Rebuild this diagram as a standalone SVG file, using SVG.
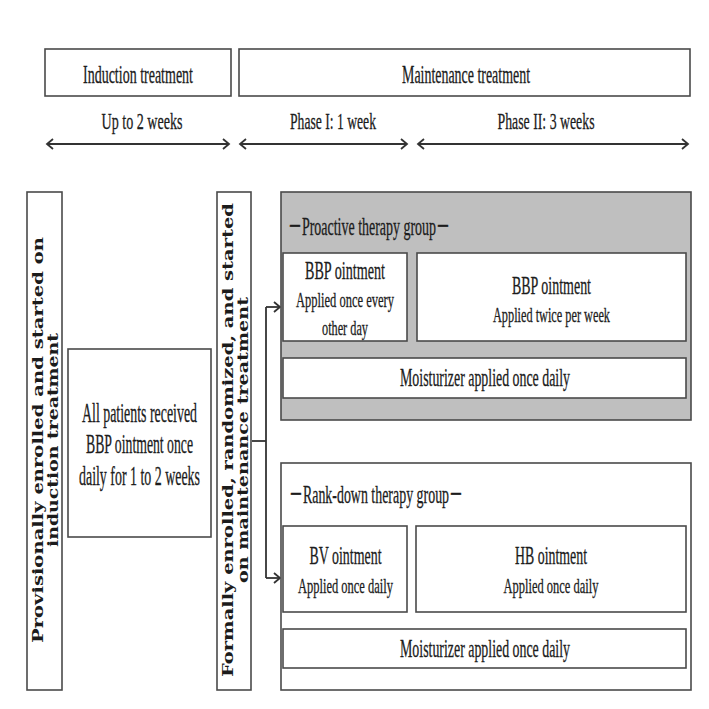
<svg xmlns="http://www.w3.org/2000/svg" width="709" height="709" viewBox="0 0 709 709">
<style>
.bg{fill:#ffffff}
.box{fill:#ffffff;stroke:#4a4a4a;stroke-width:1.6}
.gbox{fill:#bfbfbf;stroke:#4a4a4a;stroke-width:1.6}
.t{font-family:"Liberation Serif","Times New Roman","Noto Sans CJK JP",serif;fill:#1c1c1c;stroke:#1c1c1c;stroke-width:0.3;text-anchor:middle}
.v{font-family:"DejaVu Serif","Liberation Serif",serif;font-weight:bold;fill:#1c1c1c;text-anchor:middle;font-size:15px}
.ln{fill:none;stroke:#333333;stroke-width:1.8}
</style>
<defs>
<marker id="chev" markerUnits="userSpaceOnUse" markerWidth="10" markerHeight="12" refX="7" refY="6" orient="auto-start-reverse">
<path d="M1,1 L7,6 L1,11" fill="none" stroke="#333333" stroke-width="1.8"/>
</marker>
</defs>
<rect class="bg" x="0" y="0" width="709" height="709"/>

<g id="header-induction">
<rect class="box" x="45" y="49" width="186" height="47"/>
<text class="t" x="138" y="83" font-size="25" textLength="110" lengthAdjust="spacingAndGlyphs">Induction treatment</text>
</g>
<g id="header-maintenance">
<rect class="box" x="239" y="49" width="451" height="47"/>
<text class="t" x="466" y="83" font-size="25" textLength="128" lengthAdjust="spacingAndGlyphs">Maintenance treatment</text>
</g>

<g id="timeline">
<text class="t" x="142" y="129" font-size="24" textLength="81" lengthAdjust="spacingAndGlyphs">Up to 2 weeks</text>
<text class="t" x="333" y="129" font-size="24" textLength="86" lengthAdjust="spacingAndGlyphs">Phase I: 1 week</text>
<text class="t" x="546" y="129" font-size="24" textLength="97" lengthAdjust="spacingAndGlyphs">Phase II: 3 weeks</text>
<line class="ln" x1="47" y1="144" x2="229" y2="144" marker-start="url(#chev)" marker-end="url(#chev)"/>
<line class="ln" x1="240" y1="144" x2="407" y2="144" marker-start="url(#chev)" marker-end="url(#chev)"/>
<line class="ln" x1="418" y1="144" x2="688" y2="144" marker-start="url(#chev)" marker-end="url(#chev)"/>
</g>

<g id="provisional">
<rect class="box" x="27" y="192" width="35" height="498"/>
<text class="v" transform="translate(43,440) rotate(-90)" textLength="406" lengthAdjust="spacingAndGlyphs">Provisionally enrolled and started on</text>
<text class="v" transform="translate(58,440) rotate(-90)" textLength="214" lengthAdjust="spacingAndGlyphs">induction treatment</text>
</g>

<g id="induction-box">
<rect class="box" x="68" y="349" width="143" height="188"/>
<text class="t" x="139.5" y="422" font-size="27" textLength="115" lengthAdjust="spacingAndGlyphs">All patients received</text>
<text class="t" x="139.5" y="453" font-size="27" textLength="107" lengthAdjust="spacingAndGlyphs">BBP ointment once</text>
<text class="t" x="139.5" y="485" font-size="27" textLength="121" lengthAdjust="spacingAndGlyphs">daily for 1 to 2 weeks</text>
</g>

<g id="formal">
<rect class="box" x="217" y="192" width="34" height="498"/>
<text class="v" transform="translate(233,440) rotate(-90)" textLength="474" lengthAdjust="spacingAndGlyphs">Formally enrolled, randomized, and started</text>
<text class="v" transform="translate(248,440) rotate(-90)" textLength="286" lengthAdjust="spacingAndGlyphs">on maintenance treatment</text>
</g>

<g id="connectors">
<polyline class="ln" points="252,441 266,441"/>
<line class="ln" x1="266" y1="307" x2="266" y2="578"/>
<line class="ln" x1="266" y1="307" x2="280" y2="307" marker-end="url(#chev)"/>
<line class="ln" x1="266" y1="578" x2="280" y2="578" marker-end="url(#chev)"/>
</g>

<g id="proactive-group">
<rect class="gbox" x="281" y="192" width="410" height="228"/>
<text class="t" x="369" y="235" font-size="25" textLength="162" lengthAdjust="spacingAndGlyphs">－Proactive therapy group－</text>
</g>
<g id="proactive-phase1">
<rect class="box" x="283" y="253" width="124" height="88"/>
<text class="t" x="345" y="279" font-size="25" textLength="80" lengthAdjust="spacingAndGlyphs">BBP ointment</text>
<text class="t" x="345" y="307" font-size="21" textLength="98" lengthAdjust="spacingAndGlyphs">Applied once every</text>
<text class="t" x="345" y="335" font-size="21" textLength="46" lengthAdjust="spacingAndGlyphs">other day</text>
</g>
<g id="proactive-phase2">
<rect class="box" x="417" y="253" width="269" height="88"/>
<text class="t" x="551.5" y="294" font-size="25" textLength="79" lengthAdjust="spacingAndGlyphs">BBP ointment</text>
<text class="t" x="551.5" y="322" font-size="21" textLength="117" lengthAdjust="spacingAndGlyphs">Applied twice per week</text>
</g>
<g id="proactive-moisturizer">
<rect class="box" x="283" y="358" width="403" height="40"/>
<text class="t" x="485" y="386" font-size="25" textLength="170" lengthAdjust="spacingAndGlyphs">Moisturizer applied once daily</text>
</g>

<g id="rankdown-group">
<rect class="box" x="281" y="463" width="410" height="227"/>
<text class="t" x="376" y="503" font-size="25" textLength="174" lengthAdjust="spacingAndGlyphs">－Rank-down therapy group－</text>
</g>
<g id="rankdown-phase1">
<rect class="box" x="283" y="526" width="124" height="86"/>
<text class="t" x="345.5" y="564" font-size="25" textLength="72" lengthAdjust="spacingAndGlyphs">BV ointment</text>
<text class="t" x="345.5" y="593" font-size="21" textLength="95" lengthAdjust="spacingAndGlyphs">Applied once daily</text>
</g>
<g id="rankdown-phase2">
<rect class="box" x="416" y="526" width="270" height="86"/>
<text class="t" x="551" y="564" font-size="25" textLength="72" lengthAdjust="spacingAndGlyphs">HB ointment</text>
<text class="t" x="551" y="593" font-size="21" textLength="95" lengthAdjust="spacingAndGlyphs">Applied once daily</text>
</g>
<g id="rankdown-moisturizer">
<rect class="box" x="283" y="629" width="403" height="39"/>
<text class="t" x="485" y="657" font-size="25" textLength="170" lengthAdjust="spacingAndGlyphs">Moisturizer applied once daily</text>
</g>
</svg>
